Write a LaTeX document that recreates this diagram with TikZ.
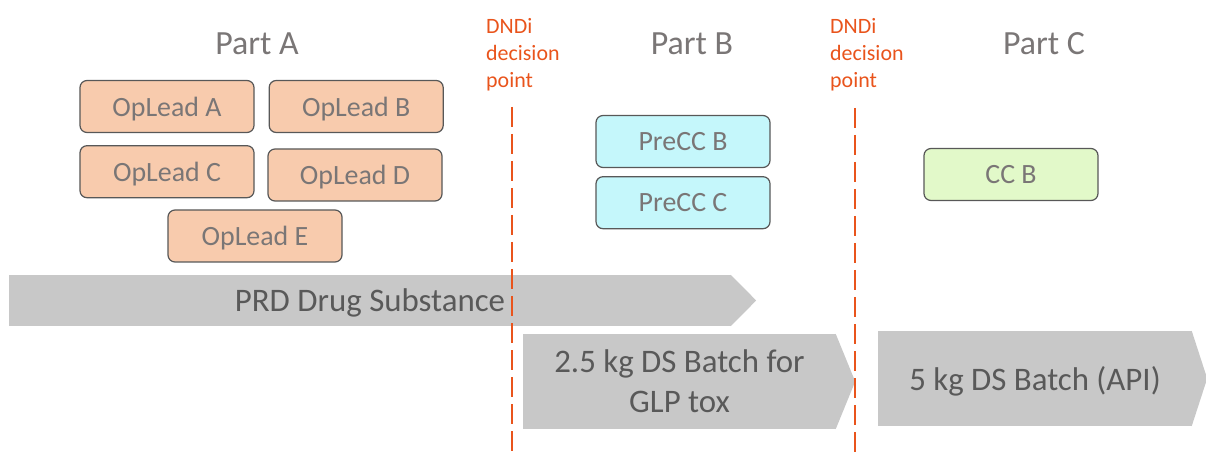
\documentclass[tikz,border=0pt]{standalone}
\usepackage{fontspec}
\setmainfont{Carlito}
\usepackage{xcolor}
\usepackage{tikz}
\usetikzlibrary{positioning}
\definecolor{leadfill}{HTML}{F8CBAD}
\definecolor{preccfill}{HTML}{C5F7FB}
\definecolor{ccfill}{HTML}{E2F9C9}
\definecolor{boxline}{HTML}{585858}
\definecolor{bargray}{HTML}{C8C8C8}
\definecolor{titlegray}{HTML}{7A7676}
\definecolor{bartext}{HTML}{595959}
\definecolor{dndiorange}{HTML}{E9541C}
\tikzset{
  stagebox/.style={draw=boxline, line width=1.2bp, rounded corners=7bp, minimum width=174bp, minimum height=52bp, inner sep=0pt, text depth=0pt, text=titlegray, font=\fontsize{28}{32}\selectfont},
  parttitle/.style={text=titlegray, inner sep=0pt, font=\fontsize{34}{40}\selectfont},
  decisionlabel/.style={text=dndiorange, align=left, inner sep=0pt, anchor=north west, font=\fontsize{22}{27}\selectfont},
  cutline/.style={draw=dndiorange, line width=2.5bp, dash pattern=on 20bp off 7bp},
  barbody/.style={fill=bargray, inner sep=0pt, text depth=0pt, text=bartext, align=center, font=\fontsize{33}{40}\selectfont}
}

\begin{document}
\begin{tikzpicture}[x=1bp, y=-1bp, node distance=12bp and 14bp]
  \useasboundingbox (0,0) rectangle (1206,457);
  \node[parttitle] (partA) at (257,44) {Part A};
  \node[parttitle] (partB) at (692,44) {Part B};
  \node[parttitle] (partC) at (1044,44) {Part C};
  \node[stagebox, fill=leadfill] (leadA) at (167,106.5) {OpLead A};
  \node[stagebox, fill=leadfill, right=of leadA] (leadB) {OpLead B};
  \node[stagebox, fill=leadfill, below=of leadA] (leadC) {OpLead C};
  \node[stagebox, fill=leadfill] (leadD) at (355,175) {OpLead D};
  \node[stagebox, fill=leadfill] (leadE) at (255,236) {OpLead E};
  \node[stagebox, fill=preccfill] (preccB) at (683,141.5) {PreCC B};
  \node[stagebox, fill=preccfill, below=8bp of preccB] (preccC) {PreCC C};
  \node[stagebox, fill=ccfill] (ccB) at (1011,174.5) {CC B};
  \node[barbody, minimum width=722bp, minimum height=51bp] (prd) at (370,300.5) {PRD Drug Substance};
  \fill[bargray] ([xshift=-0.5bp]prd.north east) -- ([xshift=25bp]prd.east) -- ([xshift=-0.5bp]prd.south east) -- cycle;
  \node[barbody, minimum width=313bp, minimum height=95bp] (glp) at (679.5,381.5) {2.5 kg DS Batch for\\GLP tox};
  \fill[bargray] ([xshift=-0.5bp]glp.north east) -- ([xshift=19bp]glp.east) -- ([xshift=-0.5bp]glp.south east) -- cycle;
  \node[barbody, minimum width=314bp, minimum height=95bp] (api) at (1035,378.5) {5 kg DS Batch (API)};
  \fill[bargray] ([xshift=-0.5bp]api.north east) -- ([xshift=15bp]api.east) -- ([xshift=-0.5bp]api.south east) -- cycle;
  \node[decisionlabel] (decide1) at (486,18) {DNDi\\decision\\point};
  \node[decisionlabel] (decide2) at (830,18) {DNDi\\decision\\point};
  \coordinate (cut1top) at (512,107);
  \coordinate (cut1bot) at (512,455);
  \coordinate (cut2top) at (855,108);
  \coordinate (cut2bot) at (855,455);
  \draw[cutline] (cut1top) -- (cut1bot);
  \draw[cutline] (cut2top) -- (cut2bot);
\end{tikzpicture}
\end{document}
